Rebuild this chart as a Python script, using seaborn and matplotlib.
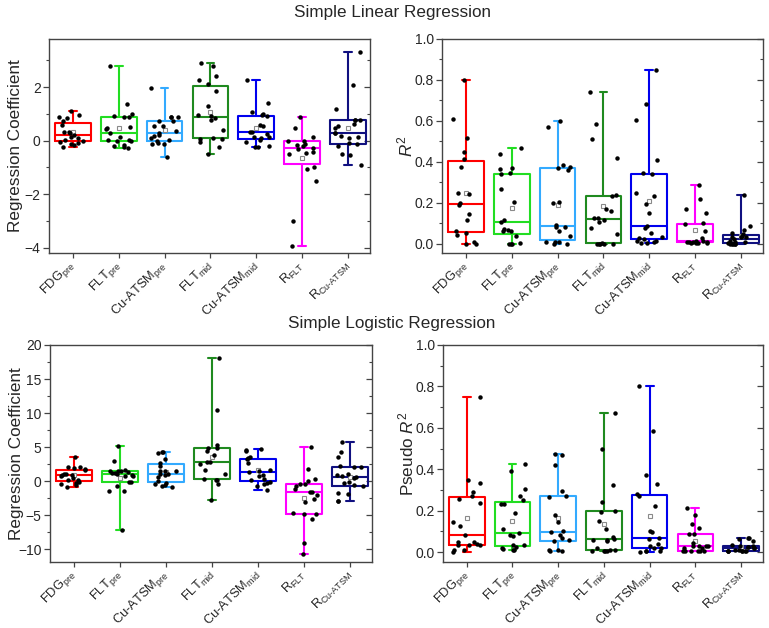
import numpy as np
import pandas as pd
import matplotlib
matplotlib.use("Agg")
import matplotlib.pyplot as plt
import seaborn as sns
from matplotlib.ticker import MultipleLocator

# ---------------- data ----------------
categories = ["FDG_pre", "FLT_pre", "CuATSM_pre", "FLT_mid", "CuATSM_mid", "R_FLT", "R_CuATSM"]
tick_labels = [r"FDG$_{\mathrm{pre}}$", r"FLT$_{\mathrm{pre}}$", r"Cu-ATSM$_{\mathrm{pre}}$",
               r"FLT$_{\mathrm{mid}}$", r"Cu-ATSM$_{\mathrm{mid}}$", r"R$_{\mathrm{FLT}}$",
               "R$_{\\mathrm{Cu\u2010ATSM}}$"]
box_colors = ["#FF0000", "#22DD22", "#33AAFF", "#1F8A1F", "#0000EE", "#FF00FF", "#101080"]

linear_coef = [
    [1.1, 0.97, 0.9, 0.83, 0.75, 0.6, 0.33, 0.32, 0.3, 0.21, 0.12, 0.1, 0.02, 0.0, -0.05, -0.1, -0.12, -0.18, -0.25],
    [2.78, 1.36, 0.99, 0.92, 0.9, 0.88, 0.5, 0.46, 0.44, 0.28, 0.03, 0.02, 0.0, -0.02, 0.12, -0.16, -0.21, -0.25, -0.27],
    [1.95, 0.9, 0.88, 0.87, 0.74, 0.73, 0.56, 0.54, 0.35, 0.28, 0.21, 0.16, 0.1, 0.02, -0.02, -0.08, -0.12, -0.14, -0.6],
    [2.9, 2.78, 2.4, 2.25, 2.12, 1.85, 1.3, 0.95, 0.93, 0.85, 0.78, 0.41, 0.09, 0.08, 0.05, -0.06, -0.22, -0.5],
    [2.26, 1.42, 1.07, 0.99, 0.95, 0.93, 0.58, 0.56, 0.33, 0.31, 0.23, 0.12, 0.12, 0.1, 0.02, -0.06, -0.19, -0.25, -0.25],
    [0.9, 0.49, 0.12, 0.0, 0.0, -0.12, -0.15, -0.21, -0.27, -0.3, -0.41, -0.47, -0.49, -1.0, -1.05, -1.52, -3.0, -3.95],
    [3.32, 2.07, 1.2, 0.78, 0.78, 0.76, 0.62, 0.56, 0.48, 0.3, 0.27, 0.18, 0.12, 0.09, -0.1, -0.13, -0.19, -0.49, -0.53, -0.9],
]
linear_r2 = [
    [0.8, 0.61, 0.516, 0.447, 0.415, 0.375, 0.247, 0.243, 0.2, 0.19, 0.147, 0.114, 0.06, 0.055, 0.044, 0.011, 0.0, 0.0],
    [0.47, 0.44, 0.37, 0.365, 0.345, 0.34, 0.267, 0.202, 0.114, 0.104, 0.072, 0.065, 0.06, 0.06, 0.036, 0.0, 0.0, 0.0, 0.005],
    [0.6, 0.57, 0.384, 0.375, 0.372, 0.36, 0.2, 0.205, 0.09, 0.08, 0.08, 0.06, 0.04, 0.011, 0.008, 0.0, 0.0, 0.01],
    [0.74, 0.586, 0.511, 0.418, 0.236, 0.234, 0.171, 0.158, 0.125, 0.125, 0.114, 0.106, 0.077, 0.049, 0.005, 0.0, 0.0, 0.0, 0.0, 0.0],
    [0.85, 0.684, 0.606, 0.41, 0.345, 0.342, 0.25, 0.231, 0.192, 0.15, 0.085, 0.075, 0.052, 0.033, 0.028, 0.022, 0.016, 0.016, 0.011, 0.003, 0.003],
    [0.288, 0.218, 0.171, 0.15, 0.1, 0.095, 0.063, 0.028, 0.015, 0.012, 0.008, 0.005, 0.003, 0.003, 0.01, 0.011, 0.011, 0.004],
    [0.236, 0.085, 0.068, 0.052, 0.049, 0.033, 0.036, 0.032, 0.024, 0.033, 0.015, 0.011, 0.006, 0.011, 0.0, 0.0, 0.0, 0.0, 0.0],
]
logistic_coef = [
    [3.6, 2.06, 2.0, 1.9, 1.6, 1.7, 0.98, 1.1, 0.88, 0.84, 0.75, 0.49, 0.15, 0.1, -0.15, -0.35, -0.5, -0.64, -0.84],
    [5.16, 2.95, 1.57, 1.47, 1.45, 1.45, 1.3, 1.2, 1.15, 1.08, 0.84, 0.74, 0.7, -0.1, -0.2, -0.79, -1.47, -1.5, -7.17],
    [4.28, 4.08, 4.2, 3.19, 2.7, 2.2, 1.47, 1.45, 1.0, 1.5, 1.1, 0.88, 0.64, 0.0, -0.34, -0.5, -0.64, -0.74, -0.88],
    [18.08, 10.42, 5.26, 4.91, 4.9, 4.42, 3.78, 2.8, 2.75, 2.46, 1.57, 1.08, 0.3, 0.15, 0.15, -0.49, -2.8],
    [4.77, 4.42, 4.5, 3.59, 3.35, 3.25, 2.6, 1.5, 1.33, 1.6, 0.84, 0.8, 0.34, 0.1, -0.1, -0.25, -0.49, -0.7, -1.33],
    [5.0, 1.72, 0.34, 0.0, -0.39, -0.4, -0.74, -1.13, -1.57, -1.6, -2.11, -2.7, -3.1, -4.75, -4.82, -4.9, -5.65, -9.09, -10.66],
    [5.75, 4.28, 3.54, 2.1, 2.06, 2.2, 1.0, 0.88, 0.7, 0.59, 0.4, -0.15, -0.34, -0.64, -0.74, -1.97, -1.8, -2.95, -2.9],
]
logistic_r2 = [
    [0.75, 0.347, 0.334, 0.29, 0.273, 0.258, 0.237, 0.143, 0.127, 0.084, 0.048, 0.047, 0.04, 0.035, 0.035, 0.035, 0.0, 0.008, 0.008],
    [0.426, 0.39, 0.305, 0.273, 0.25, 0.234, 0.232, 0.189, 0.111, 0.092, 0.084, 0.079, 0.035, 0.035, 0.02, 0.016, 0.008, 0.008, 0.024],
    [0.476, 0.47, 0.42, 0.294, 0.273, 0.265, 0.18, 0.143, 0.1, 0.097, 0.081, 0.068, 0.056, 0.052, 0.003, 0.003, 0.008, 0.008],
    [0.673, 0.498, 0.322, 0.24, 0.2, 0.195, 0.148, 0.113, 0.073, 0.065, 0.058, 0.057, 0.052, 0.019, 0.011, 0.008, 0.004, 0.003, 0.003, 0.003],
    [0.8, 0.587, 0.371, 0.33, 0.28, 0.27, 0.224, 0.103, 0.095, 0.068, 0.063, 0.039, 0.027, 0.019, 0.019, 0.0, 0.003, 0.003, 0.003],
    [0.213, 0.18, 0.137, 0.116, 0.089, 0.085, 0.044, 0.031, 0.03, 0.029, 0.028, 0.02, 0.018, 0.004, 0.003, 0.003, 0.003, 0.003, 0.003],
    [0.068, 0.066, 0.063, 0.055, 0.032, 0.031, 0.028, 0.025, 0.024, 0.02, 0.019, 0.003, 0.003, 0.003, 0.003, 0.003, 0.003, 0.003, 0.011, 0.011],
]

# ---------------- style ----------------
sns.set_style("white")
plt.rcParams["font.family"] = ["Liberation Sans", "DejaVu Sans"]
plt.rcParams["mathtext.fontset"] = "custom"
plt.rcParams["mathtext.rm"] = "Liberation Sans"
plt.rcParams["mathtext.it"] = "Liberation Sans:italic"
plt.rcParams["mathtext.bf"] = "Liberation Sans:bold"

fig = plt.figure(figsize=(7.69, 6.28), dpi=100)
W, H = 769.0, 628.0
BOX_W = 0.78
CAP_W = 0.17


def make_ax(left, top, right, bottom):
    return fig.add_axes([left / W, 1 - bottom / H, (right - left) / W, (bottom - top) / H])


def draw(ax, values, ylim, major, minor, ylabel, seed):
    df = pd.DataFrame({
        "group": np.repeat(categories, [len(v) for v in values]),
        "value": np.concatenate([np.asarray(v, float) for v in values]),
    })
    sns.boxplot(data=df, x="group", y="value", hue="group", order=categories,
                hue_order=categories, palette=box_colors, fill=False, width=BOX_W,
                linewidth=1.5, whis=(0, 100), showfliers=False, showmeans=True,
                meanprops=dict(marker="s", markerfacecolor="white",
                               markeredgecolor="#8a8a8a", markersize=3.5,
                               markeredgewidth=0.8),
                legend=False, dodge=False, ax=ax)
    # shorten the whisker caps (Origin style)
    for ln in ax.lines:
        xd = np.asarray(ln.get_xdata(), float)
        yd = np.asarray(ln.get_ydata(), float)
        if len(xd) == 2 and yd[0] == yd[1]:
            span = abs(xd[1] - xd[0])
            if 0.05 < span < 0.9 * BOX_W:
                c = xd.mean()
                ln.set_xdata([c - CAP_W / 2, c + CAP_W / 2])
    np.random.seed(seed)
    sns.stripplot(data=df, x="group", y="value", order=categories, color="black",
                  size=3.2, jitter=0.3, ax=ax, zorder=4)
    ax.set_xlim(-0.52, 6.48)
    ax.set_ylim(*ylim)
    ax.yaxis.set_major_locator(MultipleLocator(major))
    ax.yaxis.set_minor_locator(MultipleLocator(minor))
    ax.set_xticks(range(len(categories)))
    ax.set_xticklabels(tick_labels, rotation=45, ha="right", va="center",
                       rotation_mode="anchor", fontsize=9.3)
    ax.tick_params(axis="x", direction="out", length=3.5, width=0.9, color="#444444",
                   pad=4, bottom=True, top=False)
    ax.tick_params(axis="y", which="major", direction="out", length=4, width=0.9,
                   color="#444444", labelsize=10, left=True, pad=2)
    ax.tick_params(axis="y", which="minor", direction="out", length=2.5, width=0.8,
                   color="#444444", left=True)
    sec = ax.secondary_yaxis("right")
    sec.yaxis.set_major_locator(MultipleLocator(major))
    sec.yaxis.set_minor_locator(MultipleLocator(minor))
    sec.tick_params(axis="y", which="major", direction="in", length=4, width=0.9,
                    color="#444444", labelright=False)
    sec.tick_params(axis="y", which="minor", direction="in", length=2.5, width=0.8,
                    color="#444444")
    sec.spines["right"].set_visible(False)
    for s in ax.spines.values():
        s.set_visible(True)
        s.set_color("#444444")
        s.set_linewidth(1.0)
    ax.set_xlabel("")
    ax.set_ylabel(ylabel, fontsize=12.3)
    ax.yaxis.set_label_coords(-0.082, 0.5)


ax1 = make_ax(49, 39, 370, 253)
draw(ax1, linear_coef, (-4.2, 3.8), 2, 1, "Regression Coefficient", 1)
ax2 = make_ax(442, 39, 763, 253)
draw(ax2, linear_r2, (-0.045, 1.0), 0.2, 0.1, r"$R^2$", 2)
ax3 = make_ax(50, 345, 372, 562)
draw(ax3, logistic_coef, (-11.9, 20), 5, 2.5, "Regression Coefficient", 3)
ax4 = make_ax(443, 345, 763, 562)
draw(ax4, logistic_r2, (-0.048, 1.0), 0.2, 0.1, r"Pseudo $R^2$", 4)

fig.text(392 / W, 1 - 13 / H, "Simple Linear Regression", ha="center", va="center", fontsize=12.3)
fig.text(392 / W, 1 - 323 / H, "Simple Logistic Regression", ha="center", va="center", fontsize=12.3)

fig.savefig("out.png", dpi=100)
